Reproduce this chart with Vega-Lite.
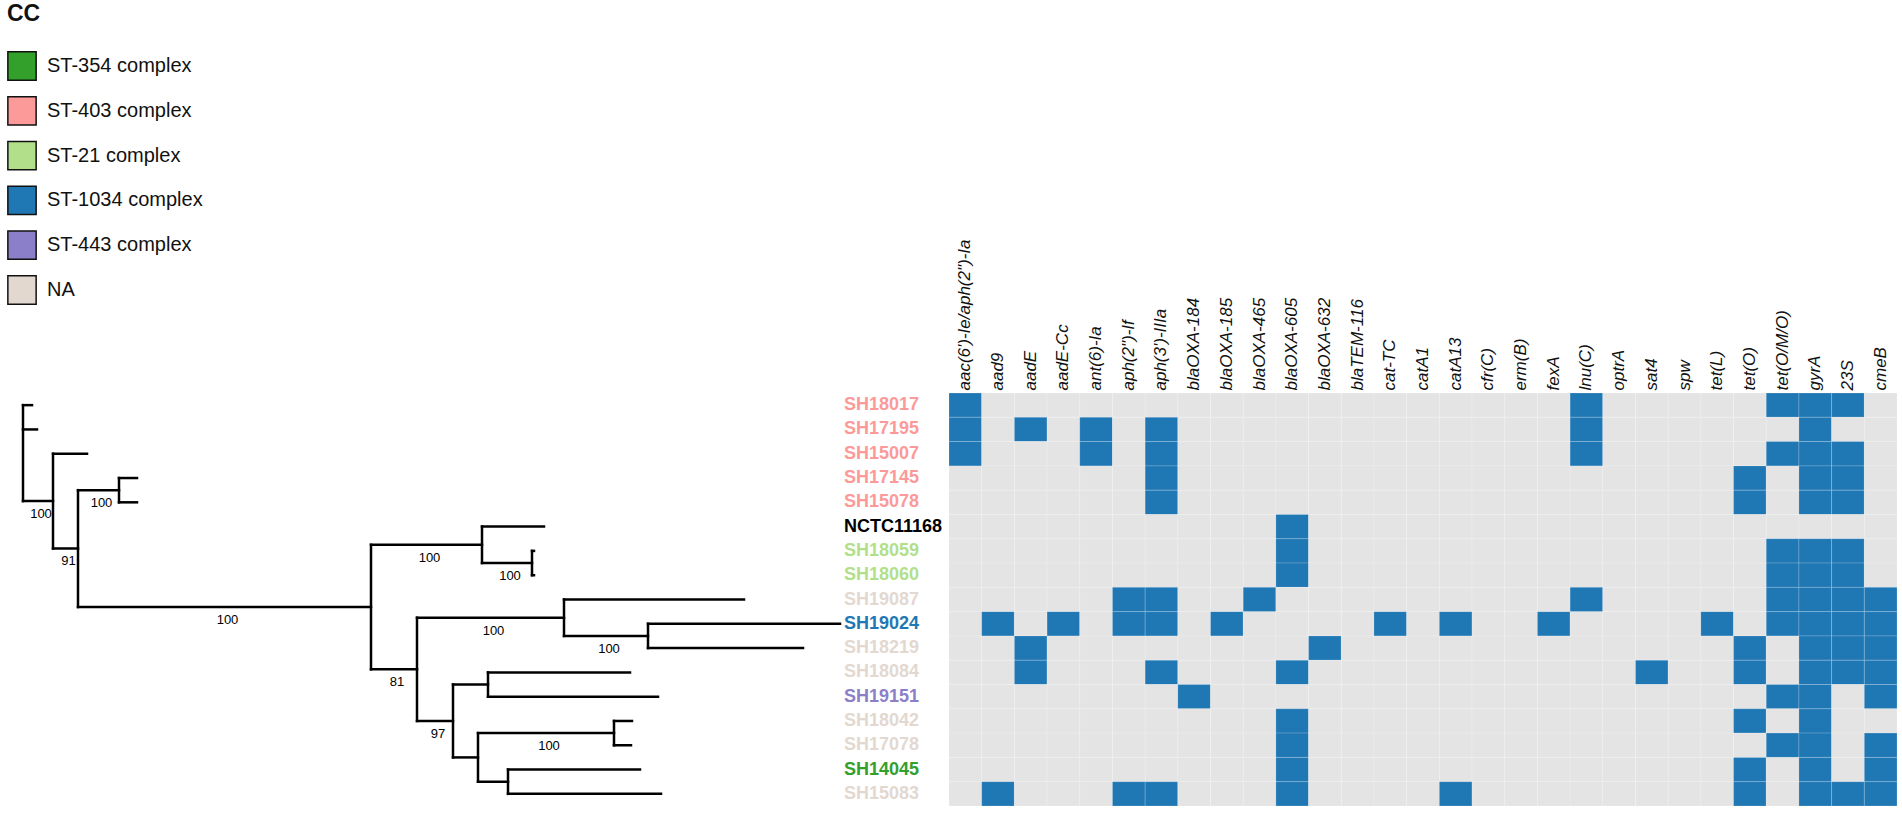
{
"$schema": "https://vega.github.io/schema/vega-lite/v6.json",
"background": "white",
"padding": {"top": 3, "left": 0, "right": 5, "bottom": 10},
"bounds": "flush",
"spacing": 5,
"config": {"font": "Liberation Sans", "view": {"stroke": null}},
"datasets": {
"tree": [
{"x":0.023,"x2":0.023,"y":0,"y2":3.95},
{"x":0.053,"x2":0.053,"y":2,"y2":5.9},
{"x":0.078,"x2":0.078,"y":3.5,"y2":8.31},
{"x":0.119,"x2":0.119,"y":3,"y2":4},
{"x":0.371,"x2":0.371,"y":5.75,"y2":10.875},
{"x":0.482,"x2":0.482,"y":5,"y2":6.5},
{"x":0.532,"x2":0.532,"y":6,"y2":7},
{"x":0.417,"x2":0.417,"y":8.75,"y2":13},
{"x":0.564,"x2":0.564,"y":8,"y2":9.5},
{"x":0.648,"x2":0.648,"y":9,"y2":10},
{"x":0.453,"x2":0.453,"y":11.5,"y2":14.5},
{"x":0.488,"x2":0.488,"y":11,"y2":12},
{"x":0.478,"x2":0.478,"y":13.5,"y2":15.5},
{"x":0.614,"x2":0.614,"y":13,"y2":14},
{"x":0.508,"x2":0.508,"y":15,"y2":16},
{"x":0.023,"x2":0.032,"y":0,"y2":0},
{"x":0.023,"x2":0.037,"y":1,"y2":1},
{"x":0.023,"x2":0.053,"y":3.95,"y2":3.95},
{"x":0.053,"x2":0.087,"y":2,"y2":2},
{"x":0.053,"x2":0.078,"y":5.9,"y2":5.9},
{"x":0.078,"x2":0.119,"y":3.5,"y2":3.5},
{"x":0.078,"x2":0.371,"y":8.31,"y2":8.31},
{"x":0.119,"x2":0.137,"y":3,"y2":3},
{"x":0.119,"x2":0.137,"y":4,"y2":4},
{"x":0.371,"x2":0.482,"y":5.75,"y2":5.75},
{"x":0.371,"x2":0.417,"y":10.875,"y2":10.875},
{"x":0.482,"x2":0.544,"y":5,"y2":5},
{"x":0.482,"x2":0.532,"y":6.5,"y2":6.5},
{"x":0.532,"x2":0.534,"y":6,"y2":6},
{"x":0.532,"x2":0.534,"y":7,"y2":7},
{"x":0.417,"x2":0.564,"y":8.75,"y2":8.75},
{"x":0.417,"x2":0.453,"y":13,"y2":13},
{"x":0.564,"x2":0.744,"y":8,"y2":8},
{"x":0.564,"x2":0.648,"y":9.5,"y2":9.5},
{"x":0.648,"x2":0.840,"y":9,"y2":9},
{"x":0.648,"x2":0.803,"y":10,"y2":10},
{"x":0.453,"x2":0.488,"y":11.5,"y2":11.5},
{"x":0.453,"x2":0.478,"y":14.5,"y2":14.5},
{"x":0.488,"x2":0.630,"y":11,"y2":11},
{"x":0.488,"x2":0.658,"y":12,"y2":12},
{"x":0.478,"x2":0.614,"y":13.5,"y2":13.5},
{"x":0.478,"x2":0.508,"y":15.5,"y2":15.5},
{"x":0.614,"x2":0.632,"y":13,"y2":13},
{"x":0.614,"x2":0.631,"y":14,"y2":14},
{"x":0.508,"x2":0.640,"y":15,"y2":15},
{"x":0.508,"x2":0.661,"y":16,"y2":16}
],
"support": [
{"x":0.038,"y":3.95,"s":"100"},
{"x":0.0655,"y":5.9,"s":"91"},
{"x":0.0985,"y":3.5,"s":"100"},
{"x":0.2245,"y":8.31,"s":"100"},
{"x":0.4265,"y":5.75,"s":"100"},
{"x":0.394,"y":10.875,"s":"81"},
{"x":0.435,"y":13,"s":"97"},
{"x":0.507,"y":6.5,"s":"100"},
{"x":0.4905,"y":8.75,"s":"100"},
{"x":0.606,"y":9.5,"s":"100"},
{"x":0.546,"y":13.5,"s":"100"}
],
"isolates": [
{"id":"SH18017","row":0,"cc":"ST-403 complex"},
{"id":"SH17195","row":1,"cc":"ST-403 complex"},
{"id":"SH15007","row":2,"cc":"ST-403 complex"},
{"id":"SH17145","row":3,"cc":"ST-403 complex"},
{"id":"SH15078","row":4,"cc":"ST-403 complex"},
{"id":"NCTC11168","row":5,"cc":"reference"},
{"id":"SH18059","row":6,"cc":"ST-21 complex"},
{"id":"SH18060","row":7,"cc":"ST-21 complex"},
{"id":"SH19087","row":8,"cc":"NA"},
{"id":"SH19024","row":9,"cc":"ST-1034 complex"},
{"id":"SH18219","row":10,"cc":"NA"},
{"id":"SH18084","row":11,"cc":"NA"},
{"id":"SH19151","row":12,"cc":"ST-443 complex"},
{"id":"SH18042","row":13,"cc":"NA"},
{"id":"SH17078","row":14,"cc":"NA"},
{"id":"SH14045","row":15,"cc":"ST-354 complex"},
{"id":"SH15083","row":16,"cc":"NA"}
],
"cells": [
{"id":"SH18017","gene":"aac(6')-Ie/aph(2\")-Ia","p":1},{"id":"SH18017","gene":"aad9","p":0},{"id":"SH18017","gene":"aadE","p":0},{"id":"SH18017","gene":"aadE-Cc","p":0},{"id":"SH18017","gene":"ant(6)-Ia","p":0},{"id":"SH18017","gene":"aph(2\")-If","p":0},{"id":"SH18017","gene":"aph(3')-IIIa","p":0},{"id":"SH18017","gene":"blaOXA-184","p":0},{"id":"SH18017","gene":"blaOXA-185","p":0},{"id":"SH18017","gene":"blaOXA-465","p":0},{"id":"SH18017","gene":"blaOXA-605","p":0},{"id":"SH18017","gene":"blaOXA-632","p":0},{"id":"SH18017","gene":"blaTEM-116","p":0},{"id":"SH18017","gene":"cat-TC","p":0},{"id":"SH18017","gene":"catA1","p":0},{"id":"SH18017","gene":"catA13","p":0},{"id":"SH18017","gene":"cfr(C)","p":0},{"id":"SH18017","gene":"erm(B)","p":0},{"id":"SH18017","gene":"fexA","p":0},{"id":"SH18017","gene":"lnu(C)","p":1},{"id":"SH18017","gene":"optrA","p":0},{"id":"SH18017","gene":"sat4","p":0},{"id":"SH18017","gene":"spw","p":0},{"id":"SH18017","gene":"tet(L)","p":0},{"id":"SH18017","gene":"tet(O)","p":0},{"id":"SH18017","gene":"tet(O/M/O)","p":1},{"id":"SH18017","gene":"gyrA","p":1},{"id":"SH18017","gene":"23S","p":1},{"id":"SH18017","gene":"cmeB","p":0},
{"id":"SH17195","gene":"aac(6')-Ie/aph(2\")-Ia","p":1},{"id":"SH17195","gene":"aad9","p":0},{"id":"SH17195","gene":"aadE","p":1},{"id":"SH17195","gene":"aadE-Cc","p":0},{"id":"SH17195","gene":"ant(6)-Ia","p":1},{"id":"SH17195","gene":"aph(2\")-If","p":0},{"id":"SH17195","gene":"aph(3')-IIIa","p":1},{"id":"SH17195","gene":"blaOXA-184","p":0},{"id":"SH17195","gene":"blaOXA-185","p":0},{"id":"SH17195","gene":"blaOXA-465","p":0},{"id":"SH17195","gene":"blaOXA-605","p":0},{"id":"SH17195","gene":"blaOXA-632","p":0},{"id":"SH17195","gene":"blaTEM-116","p":0},{"id":"SH17195","gene":"cat-TC","p":0},{"id":"SH17195","gene":"catA1","p":0},{"id":"SH17195","gene":"catA13","p":0},{"id":"SH17195","gene":"cfr(C)","p":0},{"id":"SH17195","gene":"erm(B)","p":0},{"id":"SH17195","gene":"fexA","p":0},{"id":"SH17195","gene":"lnu(C)","p":1},{"id":"SH17195","gene":"optrA","p":0},{"id":"SH17195","gene":"sat4","p":0},{"id":"SH17195","gene":"spw","p":0},{"id":"SH17195","gene":"tet(L)","p":0},{"id":"SH17195","gene":"tet(O)","p":0},{"id":"SH17195","gene":"tet(O/M/O)","p":0},{"id":"SH17195","gene":"gyrA","p":1},{"id":"SH17195","gene":"23S","p":0},{"id":"SH17195","gene":"cmeB","p":0},
{"id":"SH15007","gene":"aac(6')-Ie/aph(2\")-Ia","p":1},{"id":"SH15007","gene":"aad9","p":0},{"id":"SH15007","gene":"aadE","p":0},{"id":"SH15007","gene":"aadE-Cc","p":0},{"id":"SH15007","gene":"ant(6)-Ia","p":1},{"id":"SH15007","gene":"aph(2\")-If","p":0},{"id":"SH15007","gene":"aph(3')-IIIa","p":1},{"id":"SH15007","gene":"blaOXA-184","p":0},{"id":"SH15007","gene":"blaOXA-185","p":0},{"id":"SH15007","gene":"blaOXA-465","p":0},{"id":"SH15007","gene":"blaOXA-605","p":0},{"id":"SH15007","gene":"blaOXA-632","p":0},{"id":"SH15007","gene":"blaTEM-116","p":0},{"id":"SH15007","gene":"cat-TC","p":0},{"id":"SH15007","gene":"catA1","p":0},{"id":"SH15007","gene":"catA13","p":0},{"id":"SH15007","gene":"cfr(C)","p":0},{"id":"SH15007","gene":"erm(B)","p":0},{"id":"SH15007","gene":"fexA","p":0},{"id":"SH15007","gene":"lnu(C)","p":1},{"id":"SH15007","gene":"optrA","p":0},{"id":"SH15007","gene":"sat4","p":0},{"id":"SH15007","gene":"spw","p":0},{"id":"SH15007","gene":"tet(L)","p":0},{"id":"SH15007","gene":"tet(O)","p":0},{"id":"SH15007","gene":"tet(O/M/O)","p":1},{"id":"SH15007","gene":"gyrA","p":1},{"id":"SH15007","gene":"23S","p":1},{"id":"SH15007","gene":"cmeB","p":0},
{"id":"SH17145","gene":"aac(6')-Ie/aph(2\")-Ia","p":0},{"id":"SH17145","gene":"aad9","p":0},{"id":"SH17145","gene":"aadE","p":0},{"id":"SH17145","gene":"aadE-Cc","p":0},{"id":"SH17145","gene":"ant(6)-Ia","p":0},{"id":"SH17145","gene":"aph(2\")-If","p":0},{"id":"SH17145","gene":"aph(3')-IIIa","p":1},{"id":"SH17145","gene":"blaOXA-184","p":0},{"id":"SH17145","gene":"blaOXA-185","p":0},{"id":"SH17145","gene":"blaOXA-465","p":0},{"id":"SH17145","gene":"blaOXA-605","p":0},{"id":"SH17145","gene":"blaOXA-632","p":0},{"id":"SH17145","gene":"blaTEM-116","p":0},{"id":"SH17145","gene":"cat-TC","p":0},{"id":"SH17145","gene":"catA1","p":0},{"id":"SH17145","gene":"catA13","p":0},{"id":"SH17145","gene":"cfr(C)","p":0},{"id":"SH17145","gene":"erm(B)","p":0},{"id":"SH17145","gene":"fexA","p":0},{"id":"SH17145","gene":"lnu(C)","p":0},{"id":"SH17145","gene":"optrA","p":0},{"id":"SH17145","gene":"sat4","p":0},{"id":"SH17145","gene":"spw","p":0},{"id":"SH17145","gene":"tet(L)","p":0},{"id":"SH17145","gene":"tet(O)","p":1},{"id":"SH17145","gene":"tet(O/M/O)","p":0},{"id":"SH17145","gene":"gyrA","p":1},{"id":"SH17145","gene":"23S","p":1},{"id":"SH17145","gene":"cmeB","p":0},
{"id":"SH15078","gene":"aac(6')-Ie/aph(2\")-Ia","p":0},{"id":"SH15078","gene":"aad9","p":0},{"id":"SH15078","gene":"aadE","p":0},{"id":"SH15078","gene":"aadE-Cc","p":0},{"id":"SH15078","gene":"ant(6)-Ia","p":0},{"id":"SH15078","gene":"aph(2\")-If","p":0},{"id":"SH15078","gene":"aph(3')-IIIa","p":1},{"id":"SH15078","gene":"blaOXA-184","p":0},{"id":"SH15078","gene":"blaOXA-185","p":0},{"id":"SH15078","gene":"blaOXA-465","p":0},{"id":"SH15078","gene":"blaOXA-605","p":0},{"id":"SH15078","gene":"blaOXA-632","p":0},{"id":"SH15078","gene":"blaTEM-116","p":0},{"id":"SH15078","gene":"cat-TC","p":0},{"id":"SH15078","gene":"catA1","p":0},{"id":"SH15078","gene":"catA13","p":0},{"id":"SH15078","gene":"cfr(C)","p":0},{"id":"SH15078","gene":"erm(B)","p":0},{"id":"SH15078","gene":"fexA","p":0},{"id":"SH15078","gene":"lnu(C)","p":0},{"id":"SH15078","gene":"optrA","p":0},{"id":"SH15078","gene":"sat4","p":0},{"id":"SH15078","gene":"spw","p":0},{"id":"SH15078","gene":"tet(L)","p":0},{"id":"SH15078","gene":"tet(O)","p":1},{"id":"SH15078","gene":"tet(O/M/O)","p":0},{"id":"SH15078","gene":"gyrA","p":1},{"id":"SH15078","gene":"23S","p":1},{"id":"SH15078","gene":"cmeB","p":0},
{"id":"NCTC11168","gene":"aac(6')-Ie/aph(2\")-Ia","p":0},{"id":"NCTC11168","gene":"aad9","p":0},{"id":"NCTC11168","gene":"aadE","p":0},{"id":"NCTC11168","gene":"aadE-Cc","p":0},{"id":"NCTC11168","gene":"ant(6)-Ia","p":0},{"id":"NCTC11168","gene":"aph(2\")-If","p":0},{"id":"NCTC11168","gene":"aph(3')-IIIa","p":0},{"id":"NCTC11168","gene":"blaOXA-184","p":0},{"id":"NCTC11168","gene":"blaOXA-185","p":0},{"id":"NCTC11168","gene":"blaOXA-465","p":0},{"id":"NCTC11168","gene":"blaOXA-605","p":1},{"id":"NCTC11168","gene":"blaOXA-632","p":0},{"id":"NCTC11168","gene":"blaTEM-116","p":0},{"id":"NCTC11168","gene":"cat-TC","p":0},{"id":"NCTC11168","gene":"catA1","p":0},{"id":"NCTC11168","gene":"catA13","p":0},{"id":"NCTC11168","gene":"cfr(C)","p":0},{"id":"NCTC11168","gene":"erm(B)","p":0},{"id":"NCTC11168","gene":"fexA","p":0},{"id":"NCTC11168","gene":"lnu(C)","p":0},{"id":"NCTC11168","gene":"optrA","p":0},{"id":"NCTC11168","gene":"sat4","p":0},{"id":"NCTC11168","gene":"spw","p":0},{"id":"NCTC11168","gene":"tet(L)","p":0},{"id":"NCTC11168","gene":"tet(O)","p":0},{"id":"NCTC11168","gene":"tet(O/M/O)","p":0},{"id":"NCTC11168","gene":"gyrA","p":0},{"id":"NCTC11168","gene":"23S","p":0},{"id":"NCTC11168","gene":"cmeB","p":0},
{"id":"SH18059","gene":"aac(6')-Ie/aph(2\")-Ia","p":0},{"id":"SH18059","gene":"aad9","p":0},{"id":"SH18059","gene":"aadE","p":0},{"id":"SH18059","gene":"aadE-Cc","p":0},{"id":"SH18059","gene":"ant(6)-Ia","p":0},{"id":"SH18059","gene":"aph(2\")-If","p":0},{"id":"SH18059","gene":"aph(3')-IIIa","p":0},{"id":"SH18059","gene":"blaOXA-184","p":0},{"id":"SH18059","gene":"blaOXA-185","p":0},{"id":"SH18059","gene":"blaOXA-465","p":0},{"id":"SH18059","gene":"blaOXA-605","p":1},{"id":"SH18059","gene":"blaOXA-632","p":0},{"id":"SH18059","gene":"blaTEM-116","p":0},{"id":"SH18059","gene":"cat-TC","p":0},{"id":"SH18059","gene":"catA1","p":0},{"id":"SH18059","gene":"catA13","p":0},{"id":"SH18059","gene":"cfr(C)","p":0},{"id":"SH18059","gene":"erm(B)","p":0},{"id":"SH18059","gene":"fexA","p":0},{"id":"SH18059","gene":"lnu(C)","p":0},{"id":"SH18059","gene":"optrA","p":0},{"id":"SH18059","gene":"sat4","p":0},{"id":"SH18059","gene":"spw","p":0},{"id":"SH18059","gene":"tet(L)","p":0},{"id":"SH18059","gene":"tet(O)","p":0},{"id":"SH18059","gene":"tet(O/M/O)","p":1},{"id":"SH18059","gene":"gyrA","p":1},{"id":"SH18059","gene":"23S","p":1},{"id":"SH18059","gene":"cmeB","p":0},
{"id":"SH18060","gene":"aac(6')-Ie/aph(2\")-Ia","p":0},{"id":"SH18060","gene":"aad9","p":0},{"id":"SH18060","gene":"aadE","p":0},{"id":"SH18060","gene":"aadE-Cc","p":0},{"id":"SH18060","gene":"ant(6)-Ia","p":0},{"id":"SH18060","gene":"aph(2\")-If","p":0},{"id":"SH18060","gene":"aph(3')-IIIa","p":0},{"id":"SH18060","gene":"blaOXA-184","p":0},{"id":"SH18060","gene":"blaOXA-185","p":0},{"id":"SH18060","gene":"blaOXA-465","p":0},{"id":"SH18060","gene":"blaOXA-605","p":1},{"id":"SH18060","gene":"blaOXA-632","p":0},{"id":"SH18060","gene":"blaTEM-116","p":0},{"id":"SH18060","gene":"cat-TC","p":0},{"id":"SH18060","gene":"catA1","p":0},{"id":"SH18060","gene":"catA13","p":0},{"id":"SH18060","gene":"cfr(C)","p":0},{"id":"SH18060","gene":"erm(B)","p":0},{"id":"SH18060","gene":"fexA","p":0},{"id":"SH18060","gene":"lnu(C)","p":0},{"id":"SH18060","gene":"optrA","p":0},{"id":"SH18060","gene":"sat4","p":0},{"id":"SH18060","gene":"spw","p":0},{"id":"SH18060","gene":"tet(L)","p":0},{"id":"SH18060","gene":"tet(O)","p":0},{"id":"SH18060","gene":"tet(O/M/O)","p":1},{"id":"SH18060","gene":"gyrA","p":1},{"id":"SH18060","gene":"23S","p":1},{"id":"SH18060","gene":"cmeB","p":0},
{"id":"SH19087","gene":"aac(6')-Ie/aph(2\")-Ia","p":0},{"id":"SH19087","gene":"aad9","p":0},{"id":"SH19087","gene":"aadE","p":0},{"id":"SH19087","gene":"aadE-Cc","p":0},{"id":"SH19087","gene":"ant(6)-Ia","p":0},{"id":"SH19087","gene":"aph(2\")-If","p":1},{"id":"SH19087","gene":"aph(3')-IIIa","p":1},{"id":"SH19087","gene":"blaOXA-184","p":0},{"id":"SH19087","gene":"blaOXA-185","p":0},{"id":"SH19087","gene":"blaOXA-465","p":1},{"id":"SH19087","gene":"blaOXA-605","p":0},{"id":"SH19087","gene":"blaOXA-632","p":0},{"id":"SH19087","gene":"blaTEM-116","p":0},{"id":"SH19087","gene":"cat-TC","p":0},{"id":"SH19087","gene":"catA1","p":0},{"id":"SH19087","gene":"catA13","p":0},{"id":"SH19087","gene":"cfr(C)","p":0},{"id":"SH19087","gene":"erm(B)","p":0},{"id":"SH19087","gene":"fexA","p":0},{"id":"SH19087","gene":"lnu(C)","p":1},{"id":"SH19087","gene":"optrA","p":0},{"id":"SH19087","gene":"sat4","p":0},{"id":"SH19087","gene":"spw","p":0},{"id":"SH19087","gene":"tet(L)","p":0},{"id":"SH19087","gene":"tet(O)","p":0},{"id":"SH19087","gene":"tet(O/M/O)","p":1},{"id":"SH19087","gene":"gyrA","p":1},{"id":"SH19087","gene":"23S","p":1},{"id":"SH19087","gene":"cmeB","p":1},
{"id":"SH19024","gene":"aac(6')-Ie/aph(2\")-Ia","p":0},{"id":"SH19024","gene":"aad9","p":1},{"id":"SH19024","gene":"aadE","p":0},{"id":"SH19024","gene":"aadE-Cc","p":1},{"id":"SH19024","gene":"ant(6)-Ia","p":0},{"id":"SH19024","gene":"aph(2\")-If","p":1},{"id":"SH19024","gene":"aph(3')-IIIa","p":1},{"id":"SH19024","gene":"blaOXA-184","p":0},{"id":"SH19024","gene":"blaOXA-185","p":1},{"id":"SH19024","gene":"blaOXA-465","p":0},{"id":"SH19024","gene":"blaOXA-605","p":0},{"id":"SH19024","gene":"blaOXA-632","p":0},{"id":"SH19024","gene":"blaTEM-116","p":0},{"id":"SH19024","gene":"cat-TC","p":1},{"id":"SH19024","gene":"catA1","p":0},{"id":"SH19024","gene":"catA13","p":1},{"id":"SH19024","gene":"cfr(C)","p":0},{"id":"SH19024","gene":"erm(B)","p":0},{"id":"SH19024","gene":"fexA","p":1},{"id":"SH19024","gene":"lnu(C)","p":0},{"id":"SH19024","gene":"optrA","p":0},{"id":"SH19024","gene":"sat4","p":0},{"id":"SH19024","gene":"spw","p":0},{"id":"SH19024","gene":"tet(L)","p":1},{"id":"SH19024","gene":"tet(O)","p":0},{"id":"SH19024","gene":"tet(O/M/O)","p":1},{"id":"SH19024","gene":"gyrA","p":1},{"id":"SH19024","gene":"23S","p":1},{"id":"SH19024","gene":"cmeB","p":1},
{"id":"SH18219","gene":"aac(6')-Ie/aph(2\")-Ia","p":0},{"id":"SH18219","gene":"aad9","p":0},{"id":"SH18219","gene":"aadE","p":1},{"id":"SH18219","gene":"aadE-Cc","p":0},{"id":"SH18219","gene":"ant(6)-Ia","p":0},{"id":"SH18219","gene":"aph(2\")-If","p":0},{"id":"SH18219","gene":"aph(3')-IIIa","p":0},{"id":"SH18219","gene":"blaOXA-184","p":0},{"id":"SH18219","gene":"blaOXA-185","p":0},{"id":"SH18219","gene":"blaOXA-465","p":0},{"id":"SH18219","gene":"blaOXA-605","p":0},{"id":"SH18219","gene":"blaOXA-632","p":1},{"id":"SH18219","gene":"blaTEM-116","p":0},{"id":"SH18219","gene":"cat-TC","p":0},{"id":"SH18219","gene":"catA1","p":0},{"id":"SH18219","gene":"catA13","p":0},{"id":"SH18219","gene":"cfr(C)","p":0},{"id":"SH18219","gene":"erm(B)","p":0},{"id":"SH18219","gene":"fexA","p":0},{"id":"SH18219","gene":"lnu(C)","p":0},{"id":"SH18219","gene":"optrA","p":0},{"id":"SH18219","gene":"sat4","p":0},{"id":"SH18219","gene":"spw","p":0},{"id":"SH18219","gene":"tet(L)","p":0},{"id":"SH18219","gene":"tet(O)","p":1},{"id":"SH18219","gene":"tet(O/M/O)","p":0},{"id":"SH18219","gene":"gyrA","p":1},{"id":"SH18219","gene":"23S","p":1},{"id":"SH18219","gene":"cmeB","p":1},
{"id":"SH18084","gene":"aac(6')-Ie/aph(2\")-Ia","p":0},{"id":"SH18084","gene":"aad9","p":0},{"id":"SH18084","gene":"aadE","p":1},{"id":"SH18084","gene":"aadE-Cc","p":0},{"id":"SH18084","gene":"ant(6)-Ia","p":0},{"id":"SH18084","gene":"aph(2\")-If","p":0},{"id":"SH18084","gene":"aph(3')-IIIa","p":1},{"id":"SH18084","gene":"blaOXA-184","p":0},{"id":"SH18084","gene":"blaOXA-185","p":0},{"id":"SH18084","gene":"blaOXA-465","p":0},{"id":"SH18084","gene":"blaOXA-605","p":1},{"id":"SH18084","gene":"blaOXA-632","p":0},{"id":"SH18084","gene":"blaTEM-116","p":0},{"id":"SH18084","gene":"cat-TC","p":0},{"id":"SH18084","gene":"catA1","p":0},{"id":"SH18084","gene":"catA13","p":0},{"id":"SH18084","gene":"cfr(C)","p":0},{"id":"SH18084","gene":"erm(B)","p":0},{"id":"SH18084","gene":"fexA","p":0},{"id":"SH18084","gene":"lnu(C)","p":0},{"id":"SH18084","gene":"optrA","p":0},{"id":"SH18084","gene":"sat4","p":1},{"id":"SH18084","gene":"spw","p":0},{"id":"SH18084","gene":"tet(L)","p":0},{"id":"SH18084","gene":"tet(O)","p":1},{"id":"SH18084","gene":"tet(O/M/O)","p":0},{"id":"SH18084","gene":"gyrA","p":1},{"id":"SH18084","gene":"23S","p":1},{"id":"SH18084","gene":"cmeB","p":1},
{"id":"SH19151","gene":"aac(6')-Ie/aph(2\")-Ia","p":0},{"id":"SH19151","gene":"aad9","p":0},{"id":"SH19151","gene":"aadE","p":0},{"id":"SH19151","gene":"aadE-Cc","p":0},{"id":"SH19151","gene":"ant(6)-Ia","p":0},{"id":"SH19151","gene":"aph(2\")-If","p":0},{"id":"SH19151","gene":"aph(3')-IIIa","p":0},{"id":"SH19151","gene":"blaOXA-184","p":1},{"id":"SH19151","gene":"blaOXA-185","p":0},{"id":"SH19151","gene":"blaOXA-465","p":0},{"id":"SH19151","gene":"blaOXA-605","p":0},{"id":"SH19151","gene":"blaOXA-632","p":0},{"id":"SH19151","gene":"blaTEM-116","p":0},{"id":"SH19151","gene":"cat-TC","p":0},{"id":"SH19151","gene":"catA1","p":0},{"id":"SH19151","gene":"catA13","p":0},{"id":"SH19151","gene":"cfr(C)","p":0},{"id":"SH19151","gene":"erm(B)","p":0},{"id":"SH19151","gene":"fexA","p":0},{"id":"SH19151","gene":"lnu(C)","p":0},{"id":"SH19151","gene":"optrA","p":0},{"id":"SH19151","gene":"sat4","p":0},{"id":"SH19151","gene":"spw","p":0},{"id":"SH19151","gene":"tet(L)","p":0},{"id":"SH19151","gene":"tet(O)","p":0},{"id":"SH19151","gene":"tet(O/M/O)","p":1},{"id":"SH19151","gene":"gyrA","p":1},{"id":"SH19151","gene":"23S","p":0},{"id":"SH19151","gene":"cmeB","p":1},
{"id":"SH18042","gene":"aac(6')-Ie/aph(2\")-Ia","p":0},{"id":"SH18042","gene":"aad9","p":0},{"id":"SH18042","gene":"aadE","p":0},{"id":"SH18042","gene":"aadE-Cc","p":0},{"id":"SH18042","gene":"ant(6)-Ia","p":0},{"id":"SH18042","gene":"aph(2\")-If","p":0},{"id":"SH18042","gene":"aph(3')-IIIa","p":0},{"id":"SH18042","gene":"blaOXA-184","p":0},{"id":"SH18042","gene":"blaOXA-185","p":0},{"id":"SH18042","gene":"blaOXA-465","p":0},{"id":"SH18042","gene":"blaOXA-605","p":1},{"id":"SH18042","gene":"blaOXA-632","p":0},{"id":"SH18042","gene":"blaTEM-116","p":0},{"id":"SH18042","gene":"cat-TC","p":0},{"id":"SH18042","gene":"catA1","p":0},{"id":"SH18042","gene":"catA13","p":0},{"id":"SH18042","gene":"cfr(C)","p":0},{"id":"SH18042","gene":"erm(B)","p":0},{"id":"SH18042","gene":"fexA","p":0},{"id":"SH18042","gene":"lnu(C)","p":0},{"id":"SH18042","gene":"optrA","p":0},{"id":"SH18042","gene":"sat4","p":0},{"id":"SH18042","gene":"spw","p":0},{"id":"SH18042","gene":"tet(L)","p":0},{"id":"SH18042","gene":"tet(O)","p":1},{"id":"SH18042","gene":"tet(O/M/O)","p":0},{"id":"SH18042","gene":"gyrA","p":1},{"id":"SH18042","gene":"23S","p":0},{"id":"SH18042","gene":"cmeB","p":0},
{"id":"SH17078","gene":"aac(6')-Ie/aph(2\")-Ia","p":0},{"id":"SH17078","gene":"aad9","p":0},{"id":"SH17078","gene":"aadE","p":0},{"id":"SH17078","gene":"aadE-Cc","p":0},{"id":"SH17078","gene":"ant(6)-Ia","p":0},{"id":"SH17078","gene":"aph(2\")-If","p":0},{"id":"SH17078","gene":"aph(3')-IIIa","p":0},{"id":"SH17078","gene":"blaOXA-184","p":0},{"id":"SH17078","gene":"blaOXA-185","p":0},{"id":"SH17078","gene":"blaOXA-465","p":0},{"id":"SH17078","gene":"blaOXA-605","p":1},{"id":"SH17078","gene":"blaOXA-632","p":0},{"id":"SH17078","gene":"blaTEM-116","p":0},{"id":"SH17078","gene":"cat-TC","p":0},{"id":"SH17078","gene":"catA1","p":0},{"id":"SH17078","gene":"catA13","p":0},{"id":"SH17078","gene":"cfr(C)","p":0},{"id":"SH17078","gene":"erm(B)","p":0},{"id":"SH17078","gene":"fexA","p":0},{"id":"SH17078","gene":"lnu(C)","p":0},{"id":"SH17078","gene":"optrA","p":0},{"id":"SH17078","gene":"sat4","p":0},{"id":"SH17078","gene":"spw","p":0},{"id":"SH17078","gene":"tet(L)","p":0},{"id":"SH17078","gene":"tet(O)","p":0},{"id":"SH17078","gene":"tet(O/M/O)","p":1},{"id":"SH17078","gene":"gyrA","p":1},{"id":"SH17078","gene":"23S","p":0},{"id":"SH17078","gene":"cmeB","p":1},
{"id":"SH14045","gene":"aac(6')-Ie/aph(2\")-Ia","p":0},{"id":"SH14045","gene":"aad9","p":0},{"id":"SH14045","gene":"aadE","p":0},{"id":"SH14045","gene":"aadE-Cc","p":0},{"id":"SH14045","gene":"ant(6)-Ia","p":0},{"id":"SH14045","gene":"aph(2\")-If","p":0},{"id":"SH14045","gene":"aph(3')-IIIa","p":0},{"id":"SH14045","gene":"blaOXA-184","p":0},{"id":"SH14045","gene":"blaOXA-185","p":0},{"id":"SH14045","gene":"blaOXA-465","p":0},{"id":"SH14045","gene":"blaOXA-605","p":1},{"id":"SH14045","gene":"blaOXA-632","p":0},{"id":"SH14045","gene":"blaTEM-116","p":0},{"id":"SH14045","gene":"cat-TC","p":0},{"id":"SH14045","gene":"catA1","p":0},{"id":"SH14045","gene":"catA13","p":0},{"id":"SH14045","gene":"cfr(C)","p":0},{"id":"SH14045","gene":"erm(B)","p":0},{"id":"SH14045","gene":"fexA","p":0},{"id":"SH14045","gene":"lnu(C)","p":0},{"id":"SH14045","gene":"optrA","p":0},{"id":"SH14045","gene":"sat4","p":0},{"id":"SH14045","gene":"spw","p":0},{"id":"SH14045","gene":"tet(L)","p":0},{"id":"SH14045","gene":"tet(O)","p":1},{"id":"SH14045","gene":"tet(O/M/O)","p":0},{"id":"SH14045","gene":"gyrA","p":1},{"id":"SH14045","gene":"23S","p":0},{"id":"SH14045","gene":"cmeB","p":1},
{"id":"SH15083","gene":"aac(6')-Ie/aph(2\")-Ia","p":0},{"id":"SH15083","gene":"aad9","p":1},{"id":"SH15083","gene":"aadE","p":0},{"id":"SH15083","gene":"aadE-Cc","p":0},{"id":"SH15083","gene":"ant(6)-Ia","p":0},{"id":"SH15083","gene":"aph(2\")-If","p":1},{"id":"SH15083","gene":"aph(3')-IIIa","p":1},{"id":"SH15083","gene":"blaOXA-184","p":0},{"id":"SH15083","gene":"blaOXA-185","p":0},{"id":"SH15083","gene":"blaOXA-465","p":0},{"id":"SH15083","gene":"blaOXA-605","p":1},{"id":"SH15083","gene":"blaOXA-632","p":0},{"id":"SH15083","gene":"blaTEM-116","p":0},{"id":"SH15083","gene":"cat-TC","p":0},{"id":"SH15083","gene":"catA1","p":0},{"id":"SH15083","gene":"catA13","p":1},{"id":"SH15083","gene":"cfr(C)","p":0},{"id":"SH15083","gene":"erm(B)","p":0},{"id":"SH15083","gene":"fexA","p":0},{"id":"SH15083","gene":"lnu(C)","p":0},{"id":"SH15083","gene":"optrA","p":0},{"id":"SH15083","gene":"sat4","p":0},{"id":"SH15083","gene":"spw","p":0},{"id":"SH15083","gene":"tet(L)","p":0},{"id":"SH15083","gene":"tet(O)","p":1},{"id":"SH15083","gene":"tet(O/M/O)","p":0},{"id":"SH15083","gene":"gyrA","p":1},{"id":"SH15083","gene":"23S","p":1},{"id":"SH15083","gene":"cmeB","p":1}
]
},
"hconcat": [
{
"width": 944,
"height": 413,
"layer": [
{
"data": {"name": "tree"},
"mark": {"type": "rule", "strokeWidth": 2.5, "color": "black", "strokeCap": "square"},
"encoding": {
"x": {"field": "x", "type": "quantitative", "scale": {"domain": [0, 0.944], "nice": false, "zero": false}, "axis": null},
"x2": {"field": "x2"},
"y": {"field": "y", "type": "quantitative", "scale": {"domain": [-0.5, 16.5], "reverse": true, "nice": false, "zero": false}, "axis": null},
"y2": {"field": "y2"}
}
},
{
"data": {"name": "support"},
"mark": {"type": "text", "fontSize": 13, "dy": 13, "dx": 3, "color": "black", "align": "center", "baseline": "middle"},
"encoding": {
"x": {"field": "x", "type": "quantitative"},
"y": {"field": "y", "type": "quantitative"},
"text": {"field": "s"}
}
},
{
"data": {"name": "isolates"},
"mark": {"type": "text", "align": "left", "baseline": "middle", "fontSize": 18, "fontWeight": "bold"},
"encoding": {
"x": {"datum": 0.844, "type": "quantitative"},
"y": {"field": "row", "type": "quantitative"},
"text": {"field": "id"},
"color": {
"condition": {"test": "datum.cc === 'reference'", "value": "black"},
"field": "cc", "type": "nominal",
"scale": {"domain": ["ST-354 complex", "ST-403 complex", "ST-21 complex", "ST-1034 complex", "ST-443 complex", "NA"],
"range": ["#33a02c", "#fb9a99", "#b2df8a", "#1f78b4", "#8c7fc9", "#e3d8d0"]},
"legend": {"title": "CC", "orient": "none", "legendX": 7, "legendY": -390, "padding": 0,
"symbolType": "square", "symbolSize": 800, "symbolStrokeColor": "#111111", "symbolStrokeWidth": 1.5, "symbolOpacity": 1,
"labelFontSize": 20, "labelColor": "#111111", "labelOffset": 10, "labelLimit": 300,
"titleFontSize": 23, "titleFontWeight": "bold", "titleColor": "#111111", "titlePadding": 25, "rowPadding": 8.8}
}
}
}
]
},
{
"width": 948,
"height": 413,
"data": {"name": "cells"},
"mark": {"type": "rect", "stroke": "#ffffff", "strokeWidth": 0.6, "strokeOpacity": 0.3},
"encoding": {
"x": {"field": "gene", "type": "nominal",
"sort": ["aac(6')-Ie/aph(2\")-Ia","aad9","aadE","aadE-Cc","ant(6)-Ia","aph(2\")-If","aph(3')-IIIa","blaOXA-184","blaOXA-185","blaOXA-465","blaOXA-605","blaOXA-632","blaTEM-116","cat-TC","catA1","catA13","cfr(C)","erm(B)","fexA","lnu(C)","optrA","sat4","spw","tet(L)","tet(O)","tet(O/M/O)","gyrA","23S","cmeB"],
"scale": {"paddingInner": 0, "paddingOuter": 0},
"axis": {"orient": "top", "title": null, "labelAngle": -90, "labelFontSize": 17, "labelFontStyle": "italic", "labelColor": "#111111", "labelPadding": 3, "ticks": false, "domain": false, "labelLimit": 300}},
"y": {"field": "id", "type": "nominal",
"sort": ["SH18017","SH17195","SH15007","SH17145","SH15078","NCTC11168","SH18059","SH18060","SH19087","SH19024","SH18219","SH18084","SH19151","SH18042","SH17078","SH14045","SH15083"],
"scale": {"paddingInner": 0, "paddingOuter": 0},
"axis": null},
"color": {"condition": {"test": "datum.p === 1", "value": "#1f77b4"}, "value": "#e4e4e4"}
}
}
]
}
